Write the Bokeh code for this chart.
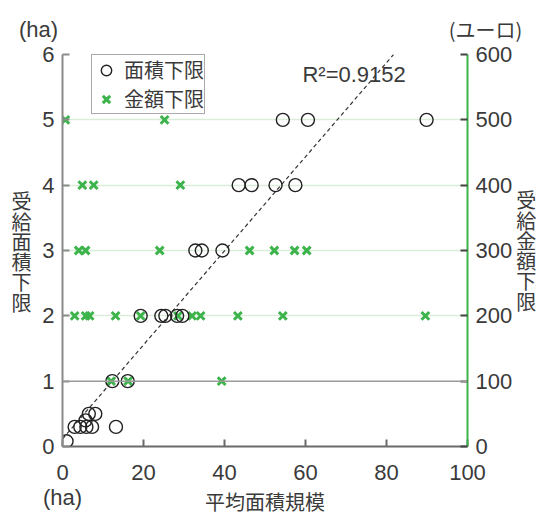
from bokeh.plotting import figure
from bokeh.models import Range1d, LinearAxis, FixedTicker, Span, Label, Legend, LegendItem
from bokeh.embed import file_html
from bokeh.resources import INLINE

# ---- data ----
area_x = [1.0, 3.0, 4.4, 5.9, 7.3, 5.7, 6.5, 8.1, 13.2,
          12.3, 16.1,
          19.3, 24.4, 25.4, 28.3, 29.6,
          32.8, 34.4, 39.5,
          43.5, 46.7, 52.6, 57.5,
          54.4, 60.6, 89.9]
area_y = [0.08, 0.3, 0.3, 0.3, 0.3, 0.4, 0.5, 0.5, 0.3,
          1, 1,
          2, 2, 2, 2, 2,
          3, 3, 3,
          4, 4, 4, 4,
          5, 5, 5]
amount_x = [0.7, 25.2,
            4.9, 7.7, 29.1,
            4.0, 5.7, 24.0, 46.2, 52.3, 57.3, 60.3,
            3.0, 5.7, 6.7, 13.1, 19.3, 28.5, 32.0, 34.1, 43.3, 54.4, 89.6,
            12.0, 16.2, 39.3]
amount_y = [500, 500,
            400, 400, 400,
            300, 300, 300, 300, 300, 300, 300,
            200, 200, 200, 200, 200, 200, 200, 200, 200, 200, 200,
            100, 100, 100]
x_ticks = [0, 20, 40, 60, 80, 100]
left_ticks = [0, 1, 2, 3, 4, 5, 6]
right_ticks = [0, 100, 200, 300, 400, 500, 600]
trend_slope = 0.072
trend_intercept = 0.115
r2_text = "R²=0.9152"
left_title = "受給面積下限"
right_title = "受給金額下限"
x_title = "平均面積規模"
x_unit = "(ha)"
left_unit = "(ha)"
right_unit = "(ユーロ)"
legend_labels = ["面積下限", "金額下限"]

NUM = "Liberation Sans"
CJK = "Noto Sans CJK JP"
TXT = "#3a3a3a"
GREEN = "#3cb44b"

p = figure(width=541, height=518, x_range=Range1d(0, 100), y_range=Range1d(0, 6),
           output_backend="svg", toolbar_location=None,
           min_border_left=62, min_border_right=74, min_border_top=54, min_border_bottom=72)
p.outline_line_color = None
p.extra_y_ranges = {"euro": Range1d(0, 600)}

# grid
p.xgrid.visible = False
p.ygrid.ticker = FixedTicker(ticks=left_ticks[2:])
p.ygrid.grid_line_color = "#d9edd9"
p.ygrid.grid_line_width = 1.5
p.add_layout(Span(location=1, dimension="width", line_color="#9a9a9a", line_width=1.5))

# axes
xa = p.xaxis[0]
xa.ticker = FixedTicker(ticks=x_ticks)
ya = p.yaxis[0]
ya.ticker = FixedTicker(ticks=left_ticks)
ra = LinearAxis(y_range_name="euro", ticker=FixedTicker(ticks=right_ticks))
p.add_layout(ra, "right")
for ax in (xa, ya, ra):
    ax.major_tick_in = 7
    ax.major_tick_out = 0
    ax.minor_tick_line_color = None
    ax.major_label_text_font = NUM
    ax.major_label_text_font_size = "22px"
    ax.major_label_text_color = TXT
    ax.axis_line_width = 2
    ax.major_tick_line_width = 2
    ax.axis_label_text_font = CJK
    ax.axis_label_text_font_size = "20px"
    ax.axis_label_text_font_style = "normal"
    ax.axis_label_text_color = TXT

xa.axis_line_color = "#6a6a6a"
xa.major_tick_line_color = "#6a6a6a"
xa.major_label_standoff = 13
xa.major_label_text_line_height = 1.0
xa.major_label_overrides = {x_ticks[0]: f"{x_ticks[0]}\n{x_unit}"}
xa.axis_label = x_title
xa.axis_label_text_line_height = 0.8
xa.axis_label_standoff = -26

ya.axis_line_color = "#8a8a8a"
ya.major_tick_line_color = "#8a8a8a"
ya.major_label_standoff = 8

ra.axis_line_color = GREEN
ra.major_tick_line_color = "#444444"
ra.major_label_standoff = 8
ra.axis_label = "\n".join(right_title)
ra.axis_label_orientation = "horizontal"
ra.axis_label_text_line_height = 0.7
ra.axis_label_standoff = 1

# trend line
x_end = (left_ticks[-1] - trend_intercept) / trend_slope
p.line([0, x_end], [trend_intercept, trend_intercept + trend_slope * x_end],
       line_color="#333333", line_width=1.2, line_dash="4 3")

# points
r_amt = p.scatter(amount_x, amount_y, y_range_name="euro", marker="x", size=11,
                  line_color=GREEN, line_width=3)
r_area = p.scatter(area_x, area_y, marker="circle", size=13, fill_color=None,
                   line_color="#222222", line_width=1.4)

legend = Legend(items=[LegendItem(label=legend_labels[0], renderers=[r_area]),
                       LegendItem(label=legend_labels[1], renderers=[r_amt])],
                location=(29, 332), orientation="vertical")
legend.label_text_font = CJK
legend.label_text_font_size = "20px"
legend.label_text_color = TXT
legend.border_line_color = "#555555"
legend.border_line_width = 1.5
legend.glyph_width = 28
legend.glyph_height = 26
legend.label_height = 24
legend.spacing = 0
legend.padding = 0
legend.margin = 0
legend.label_standoff = 4
p.add_layout(legend)

def dx(px):
    return (px - 62) / 4.05

def dy(py):
    return (446 - py) / (392 / 6)

p.add_layout(Label(x=72.0, y=5.70, text=r2_text, text_font=NUM, text_font_size="22px",
                   text_color=TXT, text_align="center", text_baseline="middle"))
p.add_layout(Label(x=dx(21), y=dy(251), text="\n".join(left_title), text_font=CJK,
                   text_font_size="20px", text_color=TXT, text_align="center",
                   text_baseline="middle", text_line_height=0.7), "left")
p.add_layout(Label(x=dx(38), y=dy(29), text=left_unit, text_font=NUM, text_font_size="22px",
                   text_color=TXT, text_align="center", text_baseline="middle"), "above")
p.add_layout(Label(x=dx(485), y=dy(29), text=right_unit, text_font=CJK, text_font_size="20px",
                   text_color=TXT, text_align="center", text_baseline="middle"), "above")

open("out.html", "w").write(file_html(p, INLINE))
